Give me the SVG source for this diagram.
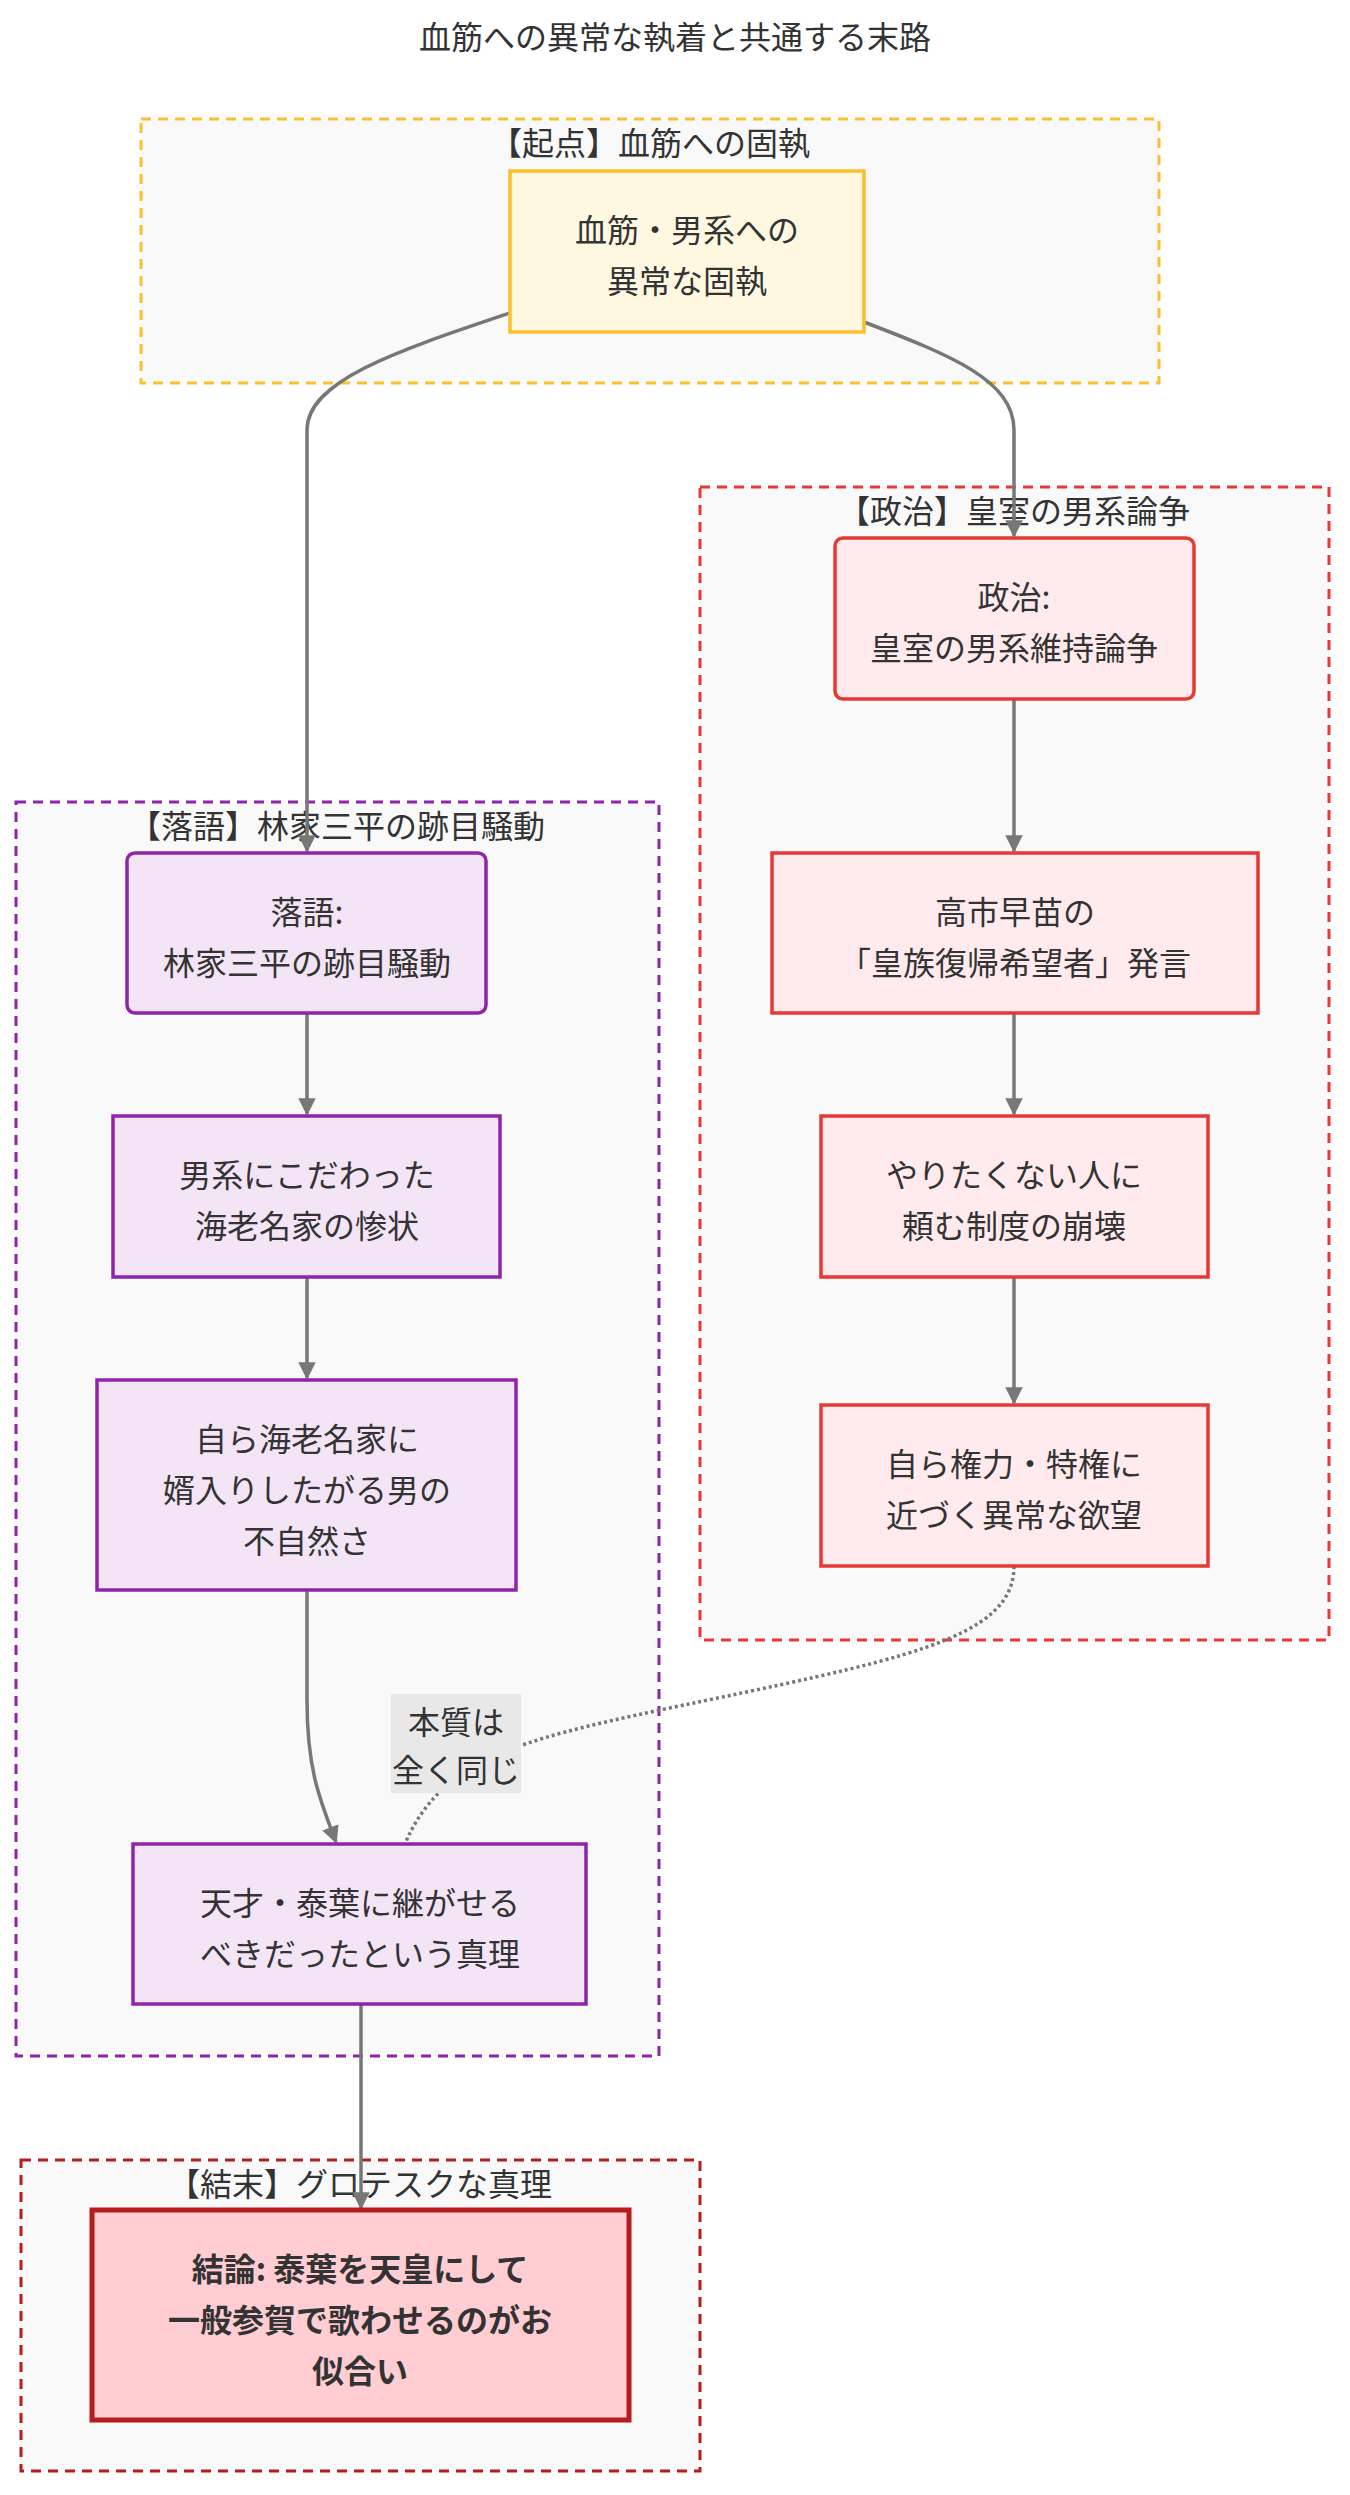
<svg xmlns="http://www.w3.org/2000/svg" width="1350" height="2495" viewBox="0 0 1350 2495">
<style>
text{font-family:"Noto Sans CJK JP","Noto Sans",sans-serif;fill:#333;text-anchor:middle;font-size:32px}
.cl{fill:#f9f9f9;stroke-width:3;stroke-dasharray:10 7}
.e{fill:none;stroke:#777;stroke-width:3.5}
.y{fill:#fff8e1;stroke:#fbc02d;stroke-width:3.5}
.r{fill:#ffebee;stroke:#e53935;stroke-width:3.5}
.p{fill:#f3e5f5;stroke:#8e24aa;stroke-width:3.5}
</style>
<defs><marker id="a" viewBox="0 0 10 10" refX="9" refY="5" markerWidth="5" markerHeight="5" orient="auto"><path d="M0 0L10 5L0 10z" fill="#777"/></marker></defs>
<rect width="1350" height="2495" fill="#fff"/>
<text x="675" y="49" font-size="37">血筋への異常な執着と共通する末路</text>
<g id="c1"><rect class="cl" x="141" y="119" width="1018" height="264" stroke="#fbc02d"/><text x="650" y="155">【起点】血筋への固執</text></g>
<g id="c2"><rect class="cl" x="700" y="487" width="629" height="1153" stroke="#e53935"/><text x="1014" y="523">【政治】皇室の男系論争</text></g>
<g id="c3"><rect class="cl" x="16" y="802" width="643" height="1254" stroke="#8e24aa"/><text x="337" y="838">【落語】林家三平の跡目騒動</text></g>
<g id="c4"><rect class="cl" x="21" y="2160" width="679" height="311" stroke="#b71c1c"/><text x="360" y="2196">【結末】グロテスクな真理</text></g>
<g id="edges">
<path class="e" d="M510 313 C400 350 307 380 307 430 L307 851" marker-end="url(#a)"/>
<path class="e" d="M864 322 C950 355 1014 380 1014 430 L1014 536" marker-end="url(#a)"/>
<path class="e" d="M1014 699 V851" marker-end="url(#a)"/>
<path class="e" d="M1014 1013 V1114" marker-end="url(#a)"/>
<path class="e" d="M1014 1277 V1403" marker-end="url(#a)"/>
<path class="e" d="M307 1013 V1114" marker-end="url(#a)"/>
<path class="e" d="M307 1277 V1378" marker-end="url(#a)"/>
<path class="e" d="M307 1590 V1700 C307 1770 320 1800 336 1842" marker-end="url(#a)"/>
<path class="e" d="M361 2004 V2208" marker-end="url(#a)"/>
<path d="M1014 1566 C1014 1640 900 1660 660 1710 C520 1740 440 1760 405 1844" fill="none" stroke="#777" stroke-width="3.5" stroke-dasharray="3 3"/>
<rect x="391" y="1694" width="130" height="99" fill="#e8e8e8"/>
<text x="456" y="1734">本質は</text><text x="456" y="1782">全く同じ</text>
</g>
<g id="start"><rect class="y" x="510" y="171" width="354" height="161"/><text x="687" y="242">血筋・男系への</text><text x="687" y="293">異常な固執</text></g>
<g id="p1"><rect class="r" x="835" y="538" width="359" height="161" rx="8"/><text x="1014" y="609">政治:</text><text x="1014" y="660">皇室の男系維持論争</text></g>
<g id="p2"><rect class="r" x="772" y="853" width="486" height="160"/><text x="1015" y="924">高市早苗の</text><text x="1015" y="975">「皇族復帰希望者」発言</text></g>
<g id="p3"><rect class="r" x="821" y="1116" width="387" height="161"/><text x="1014" y="1187">やりたくない人に</text><text x="1014" y="1238">頼む制度の崩壊</text></g>
<g id="p4"><rect class="r" x="821" y="1405" width="387" height="161"/><text x="1014" y="1476">自ら権力・特権に</text><text x="1014" y="1527">近づく異常な欲望</text></g>
<g id="r1"><rect class="p" x="127" y="853" width="359" height="160" rx="8"/><text x="307" y="924">落語:</text><text x="307" y="975">林家三平の跡目騒動</text></g>
<g id="r2"><rect class="p" x="113" y="1116" width="387" height="161"/><text x="307" y="1187">男系にこだわった</text><text x="307" y="1238">海老名家の惨状</text></g>
<g id="r3"><rect class="p" x="97" y="1380" width="419" height="210"/><text x="307" y="1451">自ら海老名家に</text><text x="307" y="1502">婿入りしたがる男の</text><text x="307" y="1553">不自然さ</text></g>
<g id="r4"><rect class="p" x="133" y="1844" width="453" height="160"/><text x="360" y="1915">天才・泰葉に継がせる</text><text x="360" y="1966">べきだったという真理</text></g>
<g id="end"><rect x="92" y="2210" width="537" height="210" fill="#ffcdd2" stroke="#b71c1c" stroke-width="5"/><g font-weight="bold"><text x="360" y="2281">結論: 泰葉を天皇にして</text><text x="360" y="2332">一般参賀で歌わせるのがお</text><text x="360" y="2383">似合い</text></g></g>
</svg>
